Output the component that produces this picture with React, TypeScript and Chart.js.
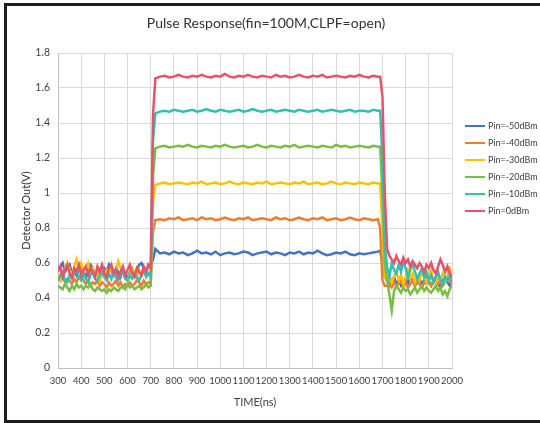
import React, { useEffect, useRef } from "react";
import { Chart, registerables } from "chart.js";

Chart.register(...registerables);

const TITLE = "Pulse Response(fin=100M,CLPF=open)";
const X_TITLE = "TIME(ns)";
const Y_TITLE = "Detector Out(V)";

const SERIES_NAMES = ["Pin=-50dBm", "Pin=-40dBm", "Pin=-30dBm", "Pin=-20dBm", "Pin=-10dBm", "Pin=0dBm"];
const SERIES_COLORS = ["#4472C4", "#ED7D31", "#FFC000", "#78BE43", "#33BFB2", "#E8536A"];

const X_MIN = 300;
const X_MAX = 2000;
const X_STEP = 100;
const Y_MIN = 0;
const Y_MAX = 1.8;
const Y_STEP = 0.2;

const TIME_NS = [
  300, 310, 320, 330, 340, 350, 360, 370, 380, 390, 400, 410, 420, 430, 440, 450, 460, 470, 480, 490,
  500, 510, 520, 530, 540, 550, 560, 570, 580, 590, 600, 610, 620, 630, 640, 650, 660, 670, 680, 690, 700,
  710,
  720, 740, 760, 780, 800, 820, 840, 860, 880, 900, 920, 940, 960, 980, 1000, 1020, 1040, 1060, 1080, 1100,
  1120, 1140, 1160, 1180, 1200, 1220, 1240, 1260, 1280, 1300, 1320, 1340, 1360, 1380, 1400, 1420, 1440, 1460,
  1480, 1500, 1520, 1540, 1560, 1580, 1600, 1620, 1640, 1660, 1680,
  1690, 1700, 1710,
  1720, 1730, 1740, 1750, 1760, 1770, 1780, 1790, 1800, 1810, 1820, 1830, 1840, 1850, 1860, 1870, 1880,
  1890, 1900, 1910, 1920, 1930, 1940, 1950, 1960, 1970, 1980, 1990, 2000,
];

const PIN_M50 = [
  0.56, 0.58, 0.6, 0.55, 0.57, 0.59, 0.54, 0.56, 0.53, 0.57,
  0.58, 0.55, 0.52, 0.56, 0.59, 0.57, 0.53, 0.55, 0.51, 0.54,
  0.57, 0.55, 0.59, 0.56, 0.53, 0.57, 0.55, 0.52, 0.56, 0.54,
  0.51, 0.55, 0.57, 0.53, 0.56, 0.59, 0.6, 0.57, 0.55, 0.59, 0.58,
  0.62,
  0.68, 0.655, 0.66, 0.65, 0.665, 0.655, 0.66,
  0.645, 0.655, 0.67, 0.655, 0.66, 0.65, 0.665,
  0.645, 0.655, 0.66, 0.65, 0.655, 0.665, 0.66,
  0.645, 0.655, 0.66, 0.665, 0.65, 0.66, 0.655,
  0.645, 0.66, 0.655, 0.665, 0.65, 0.66, 0.655,
  0.67, 0.655, 0.645, 0.65, 0.66, 0.655, 0.665,
  0.65, 0.645, 0.655, 0.65, 0.655, 0.66, 0.665,
  0.67, 0.6, 0.52,
  0.5, 0.47, 0.49, 0.52, 0.48, 0.5, 0.47, 0.49, 0.51, 0.48,
  0.52, 0.5, 0.47, 0.49, 0.51, 0.48, 0.5, 0.53, 0.49, 0.47,
  0.5, 0.52, 0.48, 0.46, 0.5, 0.52, 0.49, 0.47, 0.5,
];

const PIN_M40 = [
  0.52, 0.5, 0.53, 0.49, 0.51, 0.5, 0.48, 0.51, 0.49, 0.52,
  0.53, 0.5, 0.48, 0.5, 0.47, 0.49, 0.48, 0.5, 0.47, 0.49,
  0.48, 0.46, 0.49, 0.47, 0.48, 0.5, 0.47, 0.49, 0.46, 0.48,
  0.47, 0.49, 0.47, 0.48, 0.5, 0.49, 0.47, 0.5, 0.48, 0.49, 0.48,
  0.78,
  0.845, 0.85, 0.845, 0.855, 0.85, 0.86, 0.845,
  0.85, 0.855, 0.845, 0.86, 0.85, 0.855, 0.845,
  0.85, 0.86, 0.85, 0.845, 0.855, 0.85, 0.86,
  0.845, 0.85, 0.855, 0.85, 0.845, 0.86, 0.85,
  0.855, 0.845, 0.85, 0.86, 0.85, 0.845, 0.855,
  0.85, 0.86, 0.845, 0.85, 0.855, 0.845, 0.85,
  0.86, 0.85, 0.845, 0.855, 0.85, 0.845, 0.85,
  0.8, 0.5, 0.47,
  0.47, 0.48, 0.46, 0.49, 0.47, 0.48, 0.5, 0.47, 0.49, 0.46,
  0.48, 0.5, 0.47, 0.49, 0.48, 0.46, 0.49, 0.48, 0.5, 0.47,
  0.49, 0.51, 0.48, 0.5, 0.47, 0.49, 0.52, 0.5, 0.48,
];

const PIN_M30 = [
  0.54, 0.5, 0.53, 0.57, 0.6, 0.56, 0.53, 0.58, 0.62, 0.57,
  0.6, 0.55, 0.58, 0.6, 0.54, 0.57, 0.52, 0.55, 0.5, 0.54,
  0.52, 0.56, 0.55, 0.59, 0.53, 0.56, 0.61, 0.57, 0.55, 0.51,
  0.5, 0.54, 0.57, 0.55, 0.52, 0.56, 0.53, 0.55, 0.57, 0.54, 0.52,
  0.95,
  1.045, 1.055, 1.06, 1.05, 1.055, 1.06, 1.055,
  1.05, 1.06, 1.055, 1.065, 1.05, 1.055, 1.06,
  1.05, 1.055, 1.065, 1.055, 1.05, 1.06, 1.055,
  1.05, 1.06, 1.055, 1.065, 1.05, 1.055, 1.06,
  1.055, 1.05, 1.06, 1.055, 1.065, 1.05, 1.055,
  1.06, 1.05, 1.055, 1.065, 1.055, 1.05, 1.06,
  1.055, 1.05, 1.06, 1.055, 1.05, 1.06, 1.055,
  1.055, 0.8, 0.52,
  0.5, 0.53, 0.49, 0.52, 0.55, 0.5, 0.53, 0.48, 0.52, 0.56,
  0.51, 0.54, 0.49, 0.52, 0.5, 0.55, 0.52, 0.49, 0.53, 0.56,
  0.5, 0.48, 0.52, 0.5, 0.54, 0.5, 0.53, 0.57, 0.54,
];

const PIN_M20 = [
  0.47, 0.46, 0.45, 0.48, 0.46, 0.44, 0.47, 0.45, 0.48, 0.46,
  0.47, 0.45, 0.47, 0.46, 0.48, 0.45, 0.44, 0.46, 0.45, 0.44,
  0.45, 0.43, 0.45, 0.44, 0.46, 0.45, 0.44, 0.46, 0.47, 0.45,
  0.48, 0.46, 0.47, 0.45, 0.46, 0.47, 0.45, 0.46, 0.48, 0.46, 0.47,
  1.1,
  1.255, 1.265, 1.27, 1.26, 1.265, 1.27, 1.265,
  1.275, 1.265, 1.26, 1.27, 1.265, 1.26, 1.27,
  1.265, 1.275, 1.265, 1.26, 1.265, 1.27, 1.26,
  1.265, 1.275, 1.265, 1.26, 1.27, 1.265, 1.26,
  1.27, 1.265, 1.275, 1.26, 1.265, 1.27, 1.265,
  1.26, 1.27, 1.265, 1.26, 1.275, 1.265, 1.27,
  1.26, 1.265, 1.27, 1.265, 1.26, 1.27, 1.265,
  1.265, 1.0, 0.6,
  0.5, 0.42, 0.33, 0.44, 0.47, 0.45, 0.43, 0.46, 0.44, 0.45,
  0.42, 0.44, 0.46, 0.43, 0.45, 0.47, 0.44, 0.46, 0.44, 0.43,
  0.45, 0.47, 0.44, 0.46, 0.42, 0.44, 0.41, 0.45, 0.47,
];

const PIN_M10 = [
  0.5, 0.53, 0.55, 0.5, 0.49, 0.53, 0.51, 0.54, 0.56, 0.52,
  0.5, 0.54, 0.51, 0.49, 0.53, 0.55, 0.51, 0.5, 0.53, 0.55,
  0.52, 0.5, 0.54, 0.51, 0.55, 0.52, 0.5, 0.53, 0.56, 0.51,
  0.5, 0.53, 0.51, 0.54, 0.52, 0.5, 0.53, 0.56, 0.52, 0.54, 0.52,
  1.3,
  1.455, 1.465, 1.47, 1.465, 1.475, 1.47, 1.465,
  1.47, 1.475, 1.465, 1.47, 1.48, 1.47, 1.465,
  1.475, 1.47, 1.465, 1.47, 1.475, 1.465, 1.47,
  1.48, 1.47, 1.465, 1.47, 1.475, 1.465, 1.47,
  1.475, 1.47, 1.465, 1.475, 1.47, 1.465, 1.47,
  1.475, 1.465, 1.47, 1.475, 1.47, 1.465, 1.47,
  1.475, 1.465, 1.47, 1.47, 1.465, 1.475, 1.47,
  1.47, 1.2, 0.7,
  0.58, 0.52, 0.6, 0.56, 0.54, 0.59, 0.55, 0.61, 0.57, 0.52,
  0.56, 0.6, 0.55, 0.51, 0.54, 0.57, 0.52, 0.55, 0.5, 0.53,
  0.49, 0.52, 0.55, 0.5, 0.48, 0.52, 0.5, 0.53, 0.5,
];

const PIN_0 = [
  0.55, 0.58, 0.52, 0.56, 0.59, 0.54, 0.52, 0.57, 0.55, 0.59,
  0.53, 0.56, 0.58, 0.53, 0.57, 0.55, 0.52, 0.58, 0.55, 0.59,
  0.54, 0.52, 0.57, 0.59, 0.54, 0.56, 0.52, 0.55, 0.58, 0.53,
  0.56, 0.59, 0.54, 0.52, 0.57, 0.55, 0.53, 0.58, 0.55, 0.59, 0.57,
  1.45,
  1.655, 1.665, 1.67, 1.66, 1.665, 1.675, 1.665,
  1.66, 1.67, 1.665, 1.675, 1.665, 1.66, 1.67,
  1.665, 1.68, 1.665, 1.66, 1.67, 1.665, 1.675,
  1.665, 1.66, 1.67, 1.665, 1.66, 1.675, 1.665,
  1.67, 1.66, 1.665, 1.675, 1.665, 1.66, 1.67,
  1.665, 1.675, 1.66, 1.665, 1.67, 1.665, 1.66,
  1.67, 1.665, 1.675, 1.665, 1.66, 1.67, 1.665,
  1.665, 1.55, 1.0,
  0.68, 0.64, 0.62, 0.6, 0.64, 0.61, 0.59, 0.63, 0.6, 0.62,
  0.58, 0.61, 0.59, 0.57, 0.6, 0.58, 0.55, 0.59, 0.57, 0.6,
  0.56, 0.54, 0.58, 0.62, 0.59, 0.55, 0.58, 0.54, 0.52,
];

const FONT = "Lato, 'Liberation Sans', sans-serif";

export default function App() {
  const ref = useRef<HTMLCanvasElement>(null);

  useEffect(() => {
    if (!ref.current) return;
    const series = [PIN_M50, PIN_M40, PIN_M30, PIN_M20, PIN_M10, PIN_0];
    const datasets = series.map((vals, i) => ({
      label: SERIES_NAMES[i],
      data: vals.map((v, k) => ({ x: TIME_NS[k], y: v })),
      borderColor: SERIES_COLORS[i],
      backgroundColor: SERIES_COLORS[i],
      borderWidth: 2.5,
      pointRadius: 0,
      tension: 0,
      fill: false,
      order: series.length - i,
    }));

    const decor = {
      id: "decor",
      afterDraw(chart: any) {
        const ctx = chart.ctx as CanvasRenderingContext2D;
        ctx.save();
        // frame
        ctx.fillStyle = "#1c1c1c";
        ctx.fillRect(4, 3, 3, 420);
        ctx.fillRect(4, 3, 540, 3);
        ctx.fillRect(4, 420, 540, 3);
        // title
        ctx.fillStyle = "#333333";
        ctx.font = `14px ${FONT}`;
        ctx.textAlign = "center";
        ctx.textBaseline = "middle";
        ctx.fillText(TITLE, 266, 23);
        // legend
        ctx.font = `9px ${FONT}`;
        ctx.textAlign = "left";
        chart.data.datasets.forEach((ds: any, i: number) => {
          const y = 126 + i * 17;
          ctx.strokeStyle = ds.borderColor;
          ctx.lineWidth = 2;
          ctx.beginPath();
          ctx.moveTo(465, y);
          ctx.lineTo(485, y);
          ctx.stroke();
          ctx.fillStyle = "#404040";
          ctx.fillText(ds.label, 488, y);
        });
        ctx.restore();
      },
    };

    const chart = new Chart(ref.current, {
      type: "line",
      data: { datasets },
      options: {
        animation: false,
        responsive: false,
        layout: { padding: { left: 16, right: 88, top: 53, bottom: 7 } },
        plugins: {
          legend: { display: false },
          title: { display: false },
          tooltip: { enabled: false },
        },
        scales: {
          x: {
            type: "linear",
            min: X_MIN,
            max: X_MAX,
            ticks: {
              stepSize: X_STEP,
              autoSkip: false,
              maxRotation: 0,
              padding: 7,
              color: "#404040",
              font: { family: FONT, size: 9.5 },
              callback: (v: any) => String(v),
            },
            grid: { color: "#d9d9d9", lineWidth: 1, drawTicks: false },
            border: { color: "#bfbfbf", width: 1 },
            title: {
              display: true,
              text: X_TITLE,
              color: "#404040",
              font: { family: FONT, size: 11 },
              padding: { top: 2, bottom: 7 },
            },
            afterFit: (s: any) => {
              s.height = 48;
            },
          },
          y: {
            min: Y_MIN,
            max: Y_MAX,
            ticks: {
              stepSize: Y_STEP,
              padding: 8,
              color: "#404040",
              font: { family: FONT, size: 10.5 },
              callback: (v: any) => String(Number(Number(v).toFixed(1))),
            },
            grid: { color: "#d9d9d9", lineWidth: 1, drawTicks: false },
            border: { color: "#bfbfbf", width: 1 },
            title: {
              display: true,
              text: Y_TITLE,
              color: "#333333",
              font: { family: FONT, size: 11 },
              padding: { top: 4, bottom: 4 },
            },
            afterFit: (s: any) => {
              s.width = 42;
            },
          },
        },
      },
      plugins: [decor],
    } as any);

    return () => chart.destroy();
  }, []);

  return (
    <div
      style={{
        position: "fixed",
        left: 0,
        top: 0,
        width: 540,
        height: 423,
        overflow: "hidden",
        background: "#ffffff",
      }}
    >
      <canvas ref={ref} width={540} height={423} style={{ display: "block", width: 540, height: 423 }} />
    </div>
  );
}
